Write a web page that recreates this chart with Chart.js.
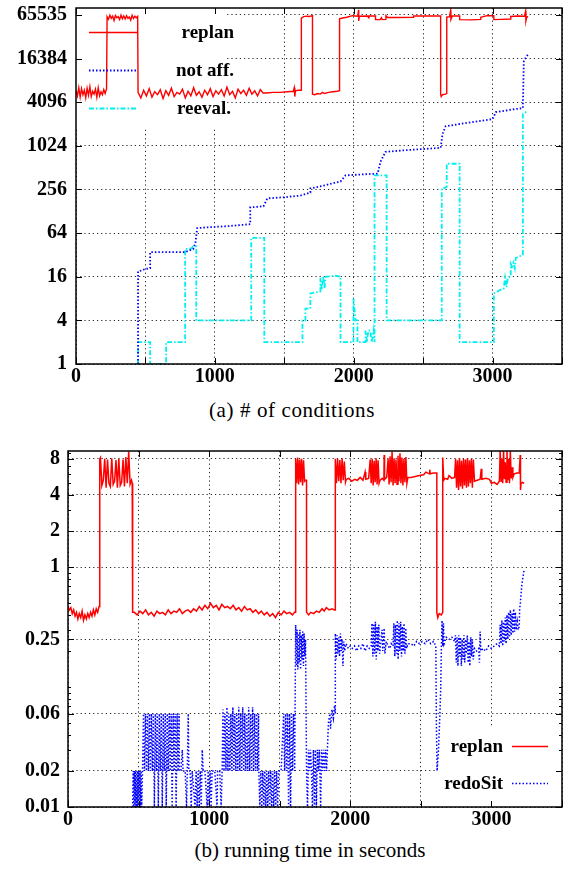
<!DOCTYPE html>
<html>
<head>
<meta charset="utf-8">
<script src="https://cdn.jsdelivr.net/npm/chart.js@4.4.1/dist/chart.umd.min.js"></script>
<style>
  body { margin: 0; background: #fff; width: 568px; height: 869px; position: relative; overflow: hidden; }
  .box { position: absolute; left: 0; width: 568px; }
  .cap { position: absolute; left: 0; text-align: center; font-family: "Liberation Serif", serif; font-size: 21px; line-height: 24px; color: #000; white-space: nowrap; }
</style>
</head>
<body>
<div class="box" style="top:0;height:392px"><canvas id="condChart" width="568" height="392"></canvas></div>
<div class="cap" style="top:398px;width:584px;letter-spacing:0.6px">(a) # of conditions</div>
<div class="box" style="top:440px;height:395px"><canvas id="timeChart" width="568" height="395"></canvas></div>
<div class="cap" style="top:838px;width:620px">(b) running time in seconds</div>

<script>
// ticks
const xTickStep = 500;
const condTicks = [1, 4, 16, 64, 256, 1024, 4096, 16384, 65535];
const condTickLabels = ["1", "4", "16", "64", "256", "1024", "4096", "16384", "65535"];
const timeTicks = [0.01, 0.02, 0.06, 0.25, 1, 2, 4, 8];
const timeTickLabels = ["0.01", "0.02", "0.06", "0.25", "1", "2", "4", "8"];
const timeMinorTicks = [0.03, 0.04, 0.05, 0.07, 0.08, 0.09, 0.1, 0.2, 0.3, 0.4, 0.5, 0.6, 0.7, 0.8, 0.9, 3, 5, 6, 7, 9];

// (a) number of conditions, [time, value]
const condReplan = [
  [0,5900],[10,5000],[20,6500],[30,4800],[40,6300],[50,5200],[60,6000],[70,4700],[80,6400],[90,5100],[100,6700],[110,4900],
  [120,5800],[130,5300],[140,6200],[150,4800],[160,6500],[170,5000],[180,5700],[190,5200],[200,6100],[210,5400],[220,6300],
  [224,62000],[234,57000],[244,65000],[254,59000],[264,63000],[274,55000],[284,64500],[294,60000],[304,62000],[314,56500],
  [324,65000],[334,58000],[344,63500],[354,57500],[364,64000],[374,59000],[384,61500],[394,55500],[404,64800],[414,58500],
  [424,63000],[434,60000],[444,62500],
  [447,5600],[467,4700],[487,6000],[507,5000],[527,6300],[547,4800],[567,5700],[587,5200],[607,6100],[627,4600],[647,5900],
  [667,5100],[687,6400],[707,4900],[727,5600],[747,5300],[767,6200],[787,4700],[807,5800],[827,5000],[847,6500],[867,5100],
  [887,5700],[907,4800],[927,6000],[947,5200],[967,6300],[987,4900],[1007,5900],[1027,5300],[1047,6100],[1067,5000],
  [1087,6600],[1107,5200],[1127,5800],[1147,4700],[1167,6200],[1187,5400],[1207,6000],[1227,5100],[1247,6400],[1267,5300],
  [1287,5900],[1307,5000],[1327,6100],[1347,5500],
  [1370,5500],[1420,5600],[1470,5600],[1520,5700],[1565,5800],[1572,6500],[1576,4900],[1580,5900],[1600,6000],[1623,6000],
  [1623,59000],[1640,62000],[1660,63000],[1680,62500],[1703,64000],
  [1703,5300],[1720,5200],[1740,5400],[1760,5300],[1775,5600],[1790,5400],[1820,5600],[1850,5700],[1880,5800],[1898,5900],
  [1898,58000],[1920,59500],[1950,61000],[1991,64000],[2030,63000],[2035,77000],[2036,54000],[2040,63000],[2100,63500],
  [2107,60000],[2110,63500],[2157,63500],[2157,56500],[2190,56500],[2200,60000],[2205,56500],[2229,57000],[2232,64000],
  [2244,60500],[2300,60500],[2431,61000],[2431,63500],[2560,63500],[2626,63500],
  [2626,5300],[2630,4900],[2640,5200],[2660,5300],[2670,5400],
  [2670,61000],[2690,62000],[2698,75000],[2700,57000],[2710,63500],[2763,63500],[2763,56500],[2850,56000],[2915,57000],
  [2915,61000],[2960,64000],[3009,64000],[3009,56500],[3060,57000],[3131,57500],[3131,62500],[3180,63500],[3230,63000],
  [3238,74000],[3240,54000],[3245,60000],[3254,63000]
];
const condNotAff = [
  [447,1],[447,19],[470,19.5],[500,20.5],[534,21],[534,35],[650,35],[786,35],[844,38.5],[860,47],[873,75],[950,77],
  [1100,80],[1255,85],[1255,145],[1350,150],[1378,193],[1500,200],[1616,211],[1688,232],[1688,265],[1750,280],[1800,295],
  [1860,315],[1905,330],[1941,400],[2050,412],[2172,424],[2193,618],[2229,846],[2400,900],[2626,960],[2640,1500],
  [2662,1910],[2800,2100],[3001,2400],[3023,2990],[3120,3200],[3218,3400],[3225,15000],[3240,17000],[3254,18500]
];
const condReeval = [
  [447,1],[447,2],[534,2],[534,1],[649,1],[649,2],[786,2],[786,38.7],[830,39],[844,42],[866,42],[866,4],[1262,4],
  [1262,55],[1356,55],[1356,2],[1631,2],[1631,4],[1652,4],[1652,5.8],[1688,5.8],[1688,9.4],[1760,10],[1760,15.5],
  [1770,10.5],[1780,16],[1790,11],[1797,16],[1869,16.5],[1905,16],[1905,2],[1998,2],[1998,8],[2013,4],[2027,4],[2027,2],
  [2085,2],[2085,2.9],[2095,2],[2105,2.9],[2120,2.9],[2130,2],[2143,2.9],[2150,2],[2150,400],[2237,400],[2237,4],
  [2634,4],[2634,265],[2655,270],[2670,280],[2670,580],[2763,580],[2763,2],[3009,2],[3009,9.4],[3074,11],[3080,11],
  [3090,15.5],[3100,11.5],[3110,15.5],[3131,16],[3131,24],[3140,22],[3150,25],[3160,21],[3167,29],[3218,32],
  [3218,2800],[3240,3000],[3254,3100]
];

// (b) running time in seconds, [time, seconds]
const timeReplan = [
  [0,0.47],[10,0.44],[20,0.46],[30,0.41],[40,0.44],[50,0.39],[60,0.42],[70,0.37],[80,0.41],[90,0.38],[100,0.43],[110,0.36],
  [120,0.40],[130,0.37],[140,0.41],[150,0.38],[160,0.42],[170,0.39],[180,0.44],[190,0.40],[200,0.45],[210,0.42],[220,0.47],
  [225,8.0],[230,8.2],[240,4.8],[250,5.3],[260,8.0],[270,4.6],[280,7.9],[290,5.0],[300,4.7],[310,8.1],[320,4.9],[330,5.2],
  [340,7.8],[350,4.6],[360,8.0],[370,4.8],[380,5.1],[390,7.9],[400,4.7],[410,8.3],[420,5.0],[430,9.2],[440,4.9],[450,5.3],
  [455,5.0],[458,5.0],
  [458,0.42],[470,0.42],[490,0.40],[510,0.43],[530,0.41],[550,0.44],[570,0.40],[590,0.42],[610,0.39],[630,0.43],[650,0.41],
  [670,0.42],[690,0.40],[710,0.44],[730,0.41],[750,0.43],[770,0.42],[790,0.45],[810,0.41],[830,0.43],[850,0.44],[870,0.42],
  [890,0.45],[910,0.43],[930,0.47],[950,0.44],[970,0.48],[990,0.45],[1010,0.50],[1030,0.46],[1050,0.48],[1070,0.44],
  [1090,0.49],[1110,0.46],[1130,0.47],[1150,0.45],[1170,0.48],[1190,0.44],[1210,0.46],[1230,0.43],[1250,0.47],[1270,0.44],
  [1290,0.45],[1310,0.42],[1330,0.44],[1350,0.41],[1370,0.43],[1390,0.40],[1410,0.42],[1430,0.39],[1450,0.41],[1470,0.38],
  [1490,0.42],[1510,0.40],[1530,0.43],[1550,0.41],[1570,0.42],[1590,0.40],[1605,0.42],[1613,0.42],
  [1613,8.0],[1620,5.0],[1627,8.2],[1634,4.9],[1641,7.9],[1648,5.1],[1655,8.0],[1662,4.8],[1669,7.8],[1676,5.2],
  [1683,5.3],[1690,5.3],
  [1690,0.42],[1705,0.40],[1720,0.42],[1740,0.41],[1760,0.43],[1780,0.42],[1800,0.45],[1815,0.43],[1830,0.46],[1850,0.44],
  [1870,0.45],[1888,0.44],[1894,0.44],
  [1894,8.0],[1902,5.0],[1910,8.0],[1918,5.2],[1926,7.8],[1934,5.0],[1942,8.1],[1950,5.3],[1958,7.6],[1966,5.1],[1972,5.4],
  [1990,5.5],[2010,5.2],[2030,5.4],[2050,5.3],[2070,5.6],[2090,5.3],[2105,6.2],[2110,5.4],[2130,5.5],
  [2141,7.9],[2148,5.0],[2155,8.0],[2162,4.8],[2169,7.7],[2176,5.1],[2183,8.1],[2190,4.9],[2197,7.8],[2204,5.0],[2211,5.3],
  [2225,5.5],[2238,5.3],[2240,8.6],[2243,5.4],[2258,5.6],
  [2268,8.0],[2275,4.9],[2282,8.4],[2289,5.1],[2296,9.2],[2303,4.8],[2310,8.1],[2317,5.0],[2324,7.9],[2331,4.9],[2338,8.5],
  [2345,5.2],[2352,8.9],[2359,5.0],[2366,8.2],[2373,4.8],[2380,8.0],[2387,5.1],[2394,8.3],[2401,5.0],[2408,5.6],
  [2430,5.6],[2460,5.7],[2490,5.8],[2520,5.9],[2535,6.2],[2560,6.0],[2563,6.5],[2566,6.0],[2590,6.1],[2613,6.1],
  [2613,0.42],[2620,0.38],[2630,0.41],[2645,0.40],[2655,0.42],
  [2655,8.2],[2662,5.3],[2670,5.5],[2690,5.4],[2700,5.8],[2720,5.5],[2739,5.6],
  [2746,8.0],[2753,4.6],[2760,7.8],[2767,4.4],[2774,8.1],[2781,4.7],[2788,7.7],[2795,4.5],[2802,8.0],[2809,4.8],[2816,7.9],
  [2823,4.6],[2830,8.1],[2837,4.7],[2844,7.8],[2851,5.0],[2858,8.0],[2865,4.6],[2872,7.9],[2880,5.2],
  [2900,5.3],[2920,5.4],[2928,6.6],[2932,5.4],[2960,5.5],[2986,5.4],[3000,5.0],[3020,5.1],[3040,4.9],[3056,5.2],
  [3062,9.3],[3068,5.2],[3074,8.0],[3080,5.0],[3086,9.5],[3092,5.4],[3098,7.5],[3104,5.1],[3110,9.4],[3116,5.3],[3122,8.0],
  [3128,5.0],[3134,9.3],[3140,5.5],[3146,6.8],[3152,5.6],[3162,6.0],
  [3180,6.1],[3197,6.1],[3204,8.6],[3206,4.4],[3210,5.0],[3220,5.1],[3232,5.0]
];
const timeRedoSit = [
  [458,0.01],[462,0.02],[466,0.01],[470,0.02],[474,0.01],[478,0.02],[482,0.01],[486,0.02],[490,0.01],[494,0.02],[498,0.01],
  [502,0.02],[506,0.01],[510,0.02],[514,0.01],[518,0.02],[522,0.01],[528,0.02],
  [535,0.06],[542,0.02],[549,0.06],[556,0.02],[563,0.06],[570,0.02],[577,0.06],[584,0.02],[591,0.06],[598,0.02],[605,0.06],
  [612,0.01],[619,0.06],[626,0.02],[633,0.06],[640,0.01],[647,0.06],[654,0.02],[661,0.06],[668,0.01],[675,0.06],[682,0.02],
  [689,0.06],[696,0.01],[703,0.06],[710,0.02],[717,0.06],[724,0.02],[731,0.06],[738,0.01],[745,0.06],[752,0.02],[759,0.06],
  [766,0.01],[773,0.06],[780,0.02],[787,0.06],[789,0.02],
  [800,0.02],[810,0.03],[815,0.02],[830,0.02],[840,0.01],[845,0.02],[852,0.06],[856,0.02],[865,0.02],[873,0.01],[880,0.02],
  [900,0.01],[908,0.02],[915,0.01],[922,0.02],[930,0.01],[937,0.02],[944,0.01],[951,0.03],[958,0.02],[970,0.02],[986,0.01],
  [993,0.02],[1000,0.01],[1007,0.02],[1014,0.01],[1021,0.02],[1040,0.02],[1056,0.01],[1060,0.02],[1075,0.02],[1085,0.01],
  [1092,0.02],
  [1098,0.065],[1105,0.02],[1112,0.06],[1119,0.02],[1126,0.068],[1133,0.02],[1140,0.06],[1147,0.02],[1154,0.06],[1161,0.02],
  [1168,0.068],[1175,0.02],[1182,0.06],[1189,0.02],[1196,0.06],[1203,0.02],[1210,0.068],[1217,0.02],[1224,0.06],[1231,0.02],
  [1238,0.068],[1245,0.02],[1252,0.06],[1259,0.02],[1266,0.06],[1273,0.02],[1280,0.068],[1287,0.02],[1294,0.06],[1301,0.02],
  [1308,0.068],[1315,0.02],[1322,0.06],[1329,0.02],[1336,0.06],[1343,0.02],[1350,0.06],[1352,0.02],
  [1359,0.01],[1366,0.02],[1373,0.01],[1380,0.02],[1387,0.01],[1394,0.02],[1401,0.01],[1408,0.02],[1415,0.01],[1422,0.02],
  [1429,0.01],[1436,0.02],[1443,0.01],[1450,0.02],[1457,0.01],[1464,0.02],[1471,0.01],[1478,0.02],[1485,0.01],[1493,0.02],
  [1510,0.02],
  [1528,0.06],[1535,0.02],[1542,0.06],[1549,0.02],[1556,0.06],[1563,0.01],[1570,0.06],[1577,0.01],[1584,0.06],[1591,0.02],
  [1598,0.06],[1606,0.02],
  [1613,0.33],[1618,0.15],[1623,0.3],[1628,0.14],[1633,0.28],[1638,0.16],[1643,0.3],[1648,0.14],[1653,0.27],[1658,0.17],
  [1663,0.29],[1668,0.15],[1673,0.28],[1678,0.18],[1683,0.25],
  [1690,0.02],[1697,0.01],[1704,0.03],
  [1711,0.02],[1718,0.03],[1725,0.02],[1732,0.01],[1739,0.03],[1746,0.01],[1753,0.03],[1760,0.01],[1767,0.03],[1774,0.02],
  [1781,0.03],[1790,0.01],[1797,0.03],[1804,0.02],[1811,0.03],[1818,0.02],[1825,0.03],[1832,0.02],[1838,0.03],
  [1845,0.05],[1855,0.06],[1860,0.045],[1870,0.065],[1880,0.055],[1888,0.07],[1894,0.06],
  [1894,0.28],[1900,0.17],[1906,0.27],[1912,0.19],[1918,0.26],[1924,0.18],[1930,0.28],[1936,0.2],[1942,0.25],[1948,0.15],
  [1954,0.24],[1960,0.2],[1970,0.23],[1986,0.21],
  [2000,0.22],[2015,0.21],[2030,0.22],[2045,0.2],[2060,0.22],[2075,0.21],[2090,0.23],[2105,0.2],[2120,0.22],[2135,0.21],
  [2148,0.22],
  [2154,0.34],[2160,0.18],[2166,0.33],[2172,0.19],[2178,0.35],[2184,0.17],[2190,0.32],[2196,0.2],[2202,0.33],[2208,0.19],
  [2215,0.23],[2225,0.3],[2230,0.2],[2240,0.31],[2245,0.19],[2255,0.24],[2268,0.22],[2280,0.21],[2290,0.23],[2303,0.22],
  [2309,0.34],[2315,0.18],[2321,0.33],[2327,0.19],[2333,0.36],[2339,0.17],[2345,0.34],[2351,0.2],[2357,0.35],[2363,0.18],
  [2369,0.32],[2375,0.2],[2381,0.34],[2387,0.19],[2393,0.31],[2399,0.21],[2408,0.23],
  [2430,0.23],[2450,0.22],[2470,0.24],[2490,0.23],[2510,0.24],[2530,0.23],[2550,0.25],[2570,0.23],[2590,0.24],[2606,0.22],
  [2610,0.05],[2615,0.02],[2625,0.03],[2635,0.06],[2641,0.1],[2645,0.2],[2650,0.36],[2655,0.22],[2660,0.34],[2665,0.23],
  [2680,0.26],[2700,0.25],[2720,0.26],[2739,0.24],
  [2745,0.27],[2751,0.16],[2757,0.26],[2763,0.15],[2769,0.27],[2775,0.18],[2781,0.26],[2787,0.15],[2793,0.25],[2799,0.17],
  [2805,0.27],[2811,0.16],[2817,0.25],[2823,0.19],[2829,0.27],[2835,0.16],[2841,0.24],[2847,0.15],[2853,0.26],[2859,0.18],
  [2865,0.25],[2871,0.17],[2880,0.21],
  [2895,0.2],[2910,0.21],[2915,0.16],[2920,0.29],[2925,0.2],[2940,0.21],[2960,0.2],[2980,0.22],[3000,0.21],[3020,0.22],
  [3040,0.23],[3056,0.22],
  [3062,0.33],[3068,0.23],[3074,0.36],[3080,0.22],[3086,0.35],[3092,0.24],[3098,0.38],[3104,0.23],[3110,0.4],[3116,0.25],
  [3122,0.42],[3128,0.26],[3134,0.44],[3140,0.27],[3146,0.41],[3152,0.28],[3158,0.45],[3164,0.29],[3170,0.42],[3176,0.3],
  [3183,0.35],[3190,0.3],[3197,0.32],
  [3200,0.45],[3205,0.5],[3210,0.6],[3215,0.7],[3220,0.78],[3225,0.85],[3232,0.95]
];

const toXY = arr => arr.map(p => ({ x: p[0], y: p[1] }));

const tickFont = { family: '"Liberation Serif"', size: 20, weight: "bold" };

// gnuplot style: white key box, frame with inward ticks, key drawn by hand
const gnuFrame = {
  id: "gnuFrame",
  beforeDatasetsDraw(chart, args, opts) {
    const k = opts.keyBox;
    const ctx = chart.ctx;
    ctx.save();
    ctx.fillStyle = "#fff";
    ctx.fillRect(k[0], k[1], k[2] - k[0], k[3] - k[1]);
    ctx.restore();
  },
  afterDatasetsDraw(chart, args, opts) {
    const { ctx, chartArea: a } = chart;
    const xs = chart.scales.x, ys = chart.scales.y;
    ctx.save();
    ctx.setLineDash([]);
    ctx.strokeStyle = "#000";
    ctx.lineWidth = 1;
    ctx.beginPath();
    xs.ticks.forEach(t => {
      const px = Math.round(xs.getPixelForValue(t.value)) + 0.5;
      ctx.moveTo(px, a.bottom); ctx.lineTo(px, a.bottom - 6);
      ctx.moveTo(px, a.top); ctx.lineTo(px, a.top + 6);
    });
    ys.ticks.forEach(t => {
      const py = Math.round(ys.getPixelForValue(t.value)) + 0.5;
      ctx.moveTo(a.left, py); ctx.lineTo(a.left + 6, py);
      ctx.moveTo(a.right, py); ctx.lineTo(a.right - 6, py);
    });
    (opts.minor || []).forEach(v => {
      const py = Math.round(ys.getPixelForValue(v)) + 0.5;
      ctx.moveTo(a.left, py); ctx.lineTo(a.left + 3, py);
      ctx.moveTo(a.right, py); ctx.lineTo(a.right - 3, py);
    });
    ctx.stroke();
    ctx.lineWidth = 1.5;
    ctx.strokeRect(a.left, a.top, a.right - a.left, a.bottom - a.top);

    // key
    ctx.font = 'bold 19px "Liberation Serif"';
    ctx.textAlign = "right";
    ctx.textBaseline = "middle";
    opts.entries.forEach(e => {
      const ds = chart.data.datasets[e.index];
      ctx.fillStyle = "#000";
      ctx.fillText(ds.label, e.textX, e.y + 1);
      ctx.strokeStyle = ds.borderColor;
      ctx.lineWidth = ds.borderWidth;
      ctx.setLineDash(ds.borderDash || []);
      ctx.beginPath();
      ctx.moveTo(e.x0, e.y + 0.5);
      ctx.lineTo(e.x1, e.y + 0.5);
      ctx.stroke();
    });
    ctx.restore();
  }
};

function lineSet(label, data, color, width, dash) {
  return {
    label: label,
    data: toXY(data),
    borderColor: color,
    borderWidth: width,
    borderDash: dash,
    pointRadius: 0,
    fill: false,
    tension: 0
  };
}

function makeOptions(yMin, yMax, ticks, labels, yWidth, xHeight, padTop, yPad, frameOpts) {
  return {
    responsive: false,
    animation: false,
    devicePixelRatio: 1,
    layout: { padding: { left: 0, top: padTop, right: 6, bottom: 0 } },
    scales: {
      x: {
        type: "linear",
        min: 0,
        max: 3500,
        afterFit: s => { s.height = xHeight; s.paddingLeft = 0; s.paddingRight = 0; },
        ticks: {
          stepSize: xTickStep,
          autoSkip: false,
          maxRotation: 0,
          padding: 1,
          color: "#000",
          font: tickFont,
          callback: v => (v % 1000 === 0 ? String(v) : "")
        },
        grid: { color: "rgba(0,0,0,0.85)", lineWidth: 1, drawTicks: false },
        border: { display: false, dash: [1.2, 3] }
      },
      y: {
        type: "logarithmic",
        min: yMin,
        max: yMax,
        afterBuildTicks: s => { s.ticks = ticks.map(v => ({ value: v })); },
        afterFit: s => { s.width = yWidth; s.paddingTop = 0; s.paddingBottom = 0; },
        ticks: {
          padding: yPad,
          color: "#000",
          font: tickFont,
          callback: (v, i) => labels[i]
        },
        grid: { color: "rgba(0,0,0,0.85)", lineWidth: 1, drawTicks: false },
        border: { display: false, dash: [1.2, 3] }
      }
    },
    plugins: {
      legend: { display: false },
      tooltip: { enabled: false },
      gnuFrame: frameOpts
    }
  };
}

// (a)
new Chart(document.getElementById("condChart"), {
  type: "line",
  data: {
    datasets: [
      lineSet("replan", condReplan, "#ff0000", 1.4, []),
      lineSet("not aff.", condNotAff, "#0000ff", 1.8, [1.5, 2]),
      lineSet("reeval.", condReeval, "#00f0f0", 1.8, [5, 2, 1.5, 2])
    ]
  },
  options: makeOptions(1, 81700, condTicks, condTickLabels, 76, 28, 8, 9, {
    keyBox: [76, 8, 227, 127],
    entries: [
      { index: 0, textX: 234, y: 32, x0: 89, x1: 138 },
      { index: 1, textX: 234, y: 70, x0: 89, x1: 138 },
      { index: 2, textX: 231, y: 108, x0: 89, x1: 138 }
    ]
  }),
  plugins: [gnuFrame]
});

// (b)
new Chart(document.getElementById("timeChart"), {
  type: "line",
  data: {
    datasets: [
      lineSet("replan", timeReplan, "#ff0000", 1.5, []),
      lineSet("redoSit", timeRedoSit, "#0000ff", 1.5, [1.5, 2])
    ]
  },
  options: makeOptions(0.01, 9.3, timeTicks, timeTickLabels, 68, 28, 11, 8, {
    keyBox: [437, 287, 562, 367],
    minor: timeMinorTicks,
    entries: [
      { index: 0, textX: 503, y: 306, x0: 512, x1: 548 },
      { index: 1, textX: 503, y: 343, x0: 512, x1: 548 }
    ]
  }),
  plugins: [gnuFrame]
});
</script>
</body>
</html>
